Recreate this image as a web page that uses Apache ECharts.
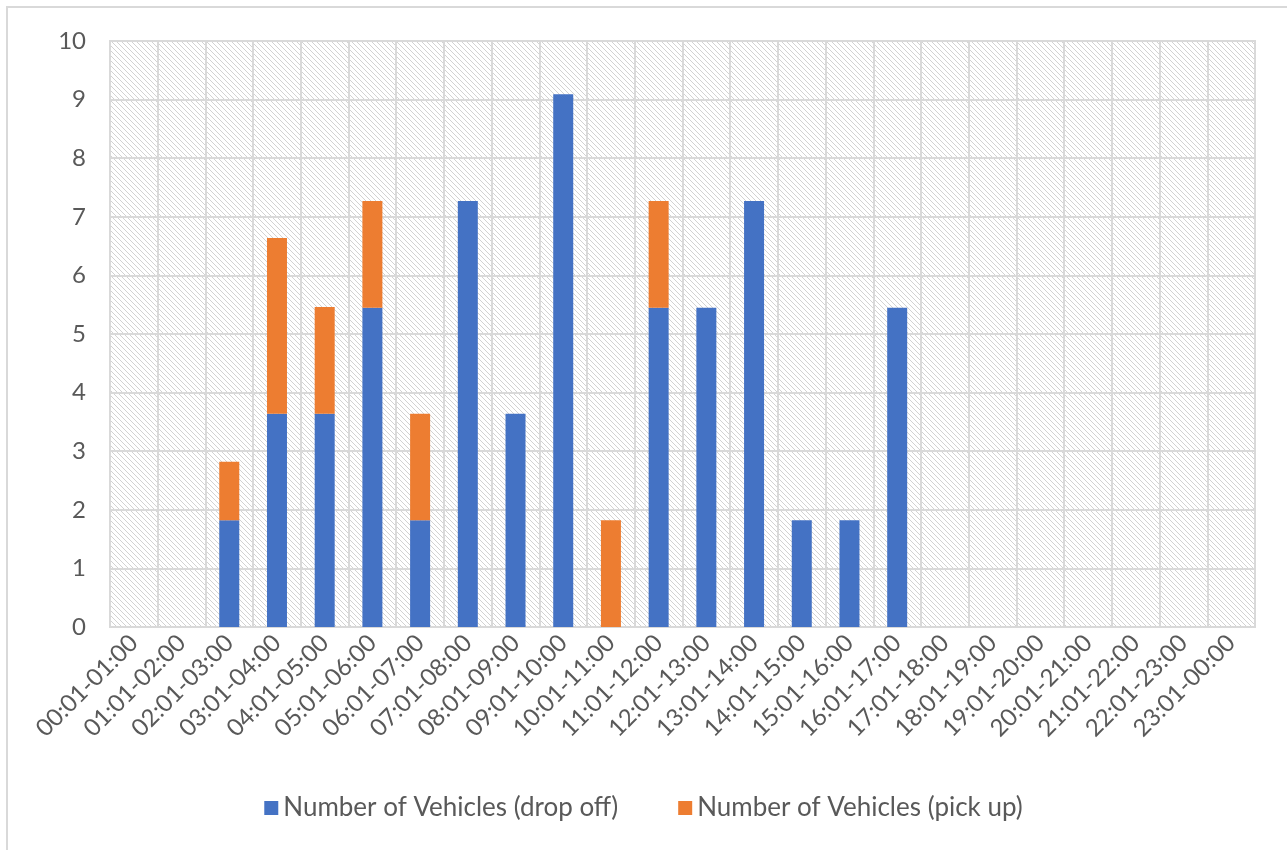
<!DOCTYPE html>
<html>
<head>
<meta charset="utf-8">
<script src="https://cdn.jsdelivr.net/npm/echarts@6/dist/echarts.min.js"></script>
<style>
html,body{margin:0;padding:0;background:#fff;overflow:hidden;}
#frame{position:absolute;left:6px;top:6px;width:1300px;height:870px;border:2px solid #d9d9d9;}
#chart{position:absolute;left:0;top:0;width:1287px;height:850px;}
</style>
</head>
<body>
<div id="frame"></div>
<div id="chart"></div>
<script>
// 时间段
var hours = ['00:01-01:00','01:01-02:00','02:01-03:00','03:01-04:00','04:01-05:00','05:01-06:00',
	'06:01-07:00','07:01-08:00','08:01-09:00','09:01-10:00','10:01-11:00','11:01-12:00',
	'12:01-13:00','13:01-14:00','14:01-15:00','15:01-16:00','16:01-17:00','17:01-18:00',
	'18:01-19:00','19:01-20:00','20:01-21:00','21:01-22:00','22:01-23:00','23:01-00:00'];
// 下车
var dropOff = [0, 0, 1.82, 3.64, 3.64, 5.45, 1.82, 7.27, 3.64, 9.09, 0, 5.45,
	5.45, 7.27, 1.82, 1.82, 5.45, 0, 0, 0, 0, 0, 0, 0];
// 上车
var pickUp = [0, 0, 1.0, 3.0, 1.82, 1.82, 1.82, 0, 0, 0, 1.82, 1.82,
	0, 0, 0, 0, 0, 0, 0, 0, 0, 0, 0, 0];

// 斜线底纹
var hatch = document.createElement('canvas');
hatch.width = 5; hatch.height = 5;
var ctx = hatch.getContext('2d');
ctx.fillStyle = '#ffffff';
ctx.fillRect(0, 0, 5, 5);
ctx.strokeStyle = '#d2d2d2';
ctx.lineWidth = 1;
ctx.beginPath();
ctx.moveTo(-1, -1); ctx.lineTo(6, 6);
ctx.moveTo(-1, 4); ctx.lineTo(1, 6);
ctx.moveTo(4, -1); ctx.lineTo(6, 1);
ctx.stroke();

var myChart = echarts.init(document.getElementById('chart'));
var txt = '#595959';
var option = {
	animation: false,
	textStyle: {fontFamily: 'Lato, "Open Sans", sans-serif'},
	grid: {
		left: 110, right: 32, top: 41, bottom: 223,
		show: true,
		backgroundColor: {image: hatch, repeat: 'repeat'},
		borderColor: '#d9d9d9', borderWidth: 2
	},
	legend: {
		bottom: 24,
		itemWidth: 14, itemHeight: 14, itemGap: 60,
		icon: 'rect',
		textStyle: {color: txt, fontSize: 26, fontFamily: 'Lato, sans-serif'},
		data: ['Number of Vehicles (drop off)', 'Number of Vehicles (pick up)']
	},
	xAxis: {
		type: 'category',
		data: hours,
		axisLine: {lineStyle: {color: '#d9d9d9', width: 2}},
		axisTick: {show: false},
		splitLine: {show: true, lineStyle: {color: '#d9d9d9', width: 2}},
		axisLabel: {rotate: 45, color: txt, fontSize: 24, margin: 12, interval: 0}
	},
	yAxis: {
		type: 'value',
		min: 0, max: 10, interval: 1,
		axisLine: {show: false},
		axisTick: {show: false},
		splitLine: {lineStyle: {color: '#d9d9d9', width: 2}},
		axisLabel: {color: txt, fontSize: 24, margin: 24}
	},
	series: [{
		name: 'Number of Vehicles (drop off)',
		type: 'bar',
		stack: 'v',
		barWidth: 20,
		itemStyle: {color: '#4472C4'},
		data: dropOff
	}, {
		name: 'Number of Vehicles (pick up)',
		type: 'bar',
		stack: 'v',
		barWidth: 20,
		itemStyle: {color: '#ED7D31'},
		data: pickUp
	}]
};
myChart.setOption(option);
</script>
</body>
</html>
